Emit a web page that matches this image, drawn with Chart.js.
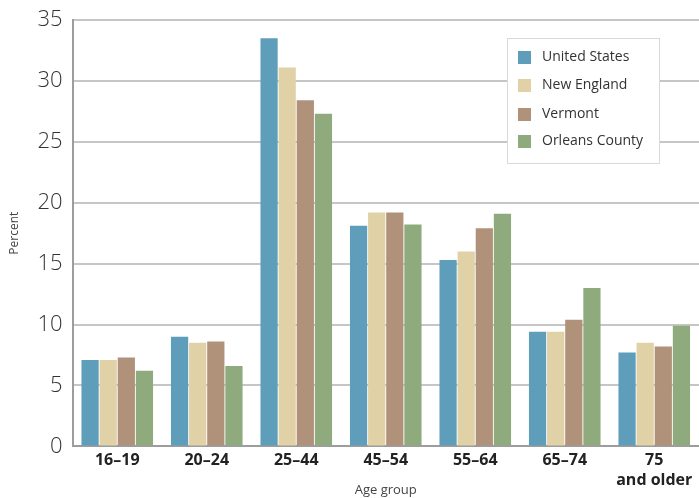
<!DOCTYPE html>
<html>
<head>
<meta charset="utf-8">
<script src="https://cdn.jsdelivr.net/npm/chart.js@4/dist/chart.umd.min.js"></script>
<style>
  html, body { margin: 0; padding: 0; background: #fff; }
  #wrap { width: 699px; height: 498px; position: relative; }
</style>
</head>
<body>
<div id="wrap"><canvas id="c" width="699" height="498"></canvas></div>
<script>
// Age groups along the x axis
const ageGroups = ['16–19', '20–24', '25–44', '45–54', '55–64', '65–74', ['75', 'and older']];

// Share of each population in each age group (percent)
const unitedStates  = [7.1, 9.0, 33.5, 18.1, 15.3, 9.4, 7.7];
const newEngland    = [7.1, 8.5, 31.1, 19.2, 16.0, 9.4, 8.5];
const vermont       = [7.3, 8.6, 28.4, 19.2, 17.9, 10.4, 8.2];
const orleansCounty = [6.2, 6.6, 27.3, 18.2, 19.1, 13.0, 9.9];

const seriesNames = ['United States', 'New England', 'Vermont', 'Orleans County'];
const seriesColors = ['#5f9ebb', '#e0d1a7', '#b0917a', '#8fab7d'];

const yTicks = [0, 5, 10, 15, 20, 25, 30, 35];

// Boxed legend drawn inside the plot area, upper right
const boxLegend = {
  id: 'boxLegend',
  afterDraw(chart) {
    const ctx = chart.ctx;
    const x = 507, y = 38, w = 152, h = 125;
    ctx.save();
    ctx.fillStyle = '#ffffff';
    ctx.fillRect(x, y, w, h);
    ctx.strokeStyle = '#dcd8d4';
    ctx.lineWidth = 1;
    ctx.strokeRect(x + 0.5, y + 0.5, w, h);
    ctx.font = '14px "Open Sans", sans-serif';
    ctx.textBaseline = 'middle';
    const rows = [57, 85, 114, 141];
    chart.data.datasets.forEach((ds, i) => {
      ctx.fillStyle = ds.backgroundColor;
      ctx.fillRect(x + 11, rows[i] - 6, 13, 13);
      ctx.fillStyle = '#333333';
      ctx.fillText(ds.label, x + 35, rows[i]);
    });
    ctx.restore();
  }
};

new Chart(document.getElementById('c'), {
  type: 'bar',
  data: {
    labels: ageGroups,
    datasets: [unitedStates, newEngland, vermont, orleansCounty].map((vals, i) => ({
      label: seriesNames[i],
      data: vals,
      backgroundColor: seriesColors[i],
      borderWidth: 0,
      categoryPercentage: 0.81,
      barPercentage: 0.95
    }))
  },
  options: {
    responsive: false,
    animation: false,
    layout: { padding: { top: 0, right: 0, left: 7, bottom: 0 } },
    plugins: {
      legend: { display: false },
      tooltip: { enabled: false }
    },
    scales: {
      x: {
        grid: { display: false, drawTicks: false },
        border: { color: '#9d9d9d', width: 2 },
        ticks: {
          color: '#222222',
          font: { family: '"Open Sans", sans-serif', size: 16, weight: 'bold', lineHeight: 1.25 },
          padding: 4,
          maxRotation: 0,
          autoSkip: false
        },
        title: {
          display: true,
          text: 'Age group',
          color: '#444444',
          font: { family: '"Open Sans", sans-serif', size: 13 },
          padding: { top: -12, bottom: 0 }
        }
      },
      y: {
        min: 0,
        max: 35,
        afterBuildTicks(scale) { scale.ticks = yTicks.map(v => ({ value: v })); },
        grid: {
          drawTicks: false,
          color: '#c6c6c6',
          lineWidth: 2
        },
        border: { color: '#9d9d9d', width: 2 },
        ticks: {
          color: '#333333',
          font: { family: '"Open Sans", sans-serif', size: 22, weight: '300', lineHeight: 0.9 },
          padding: 10
        },
        title: {
          display: true,
          text: 'Percent',
          color: '#444444',
          font: { family: '"Open Sans", sans-serif', size: 12 },
          padding: { top: 0, bottom: 6 }
        }
      }
    }
  },
  plugins: [boxLegend]
});
</script>
</body>
</html>
